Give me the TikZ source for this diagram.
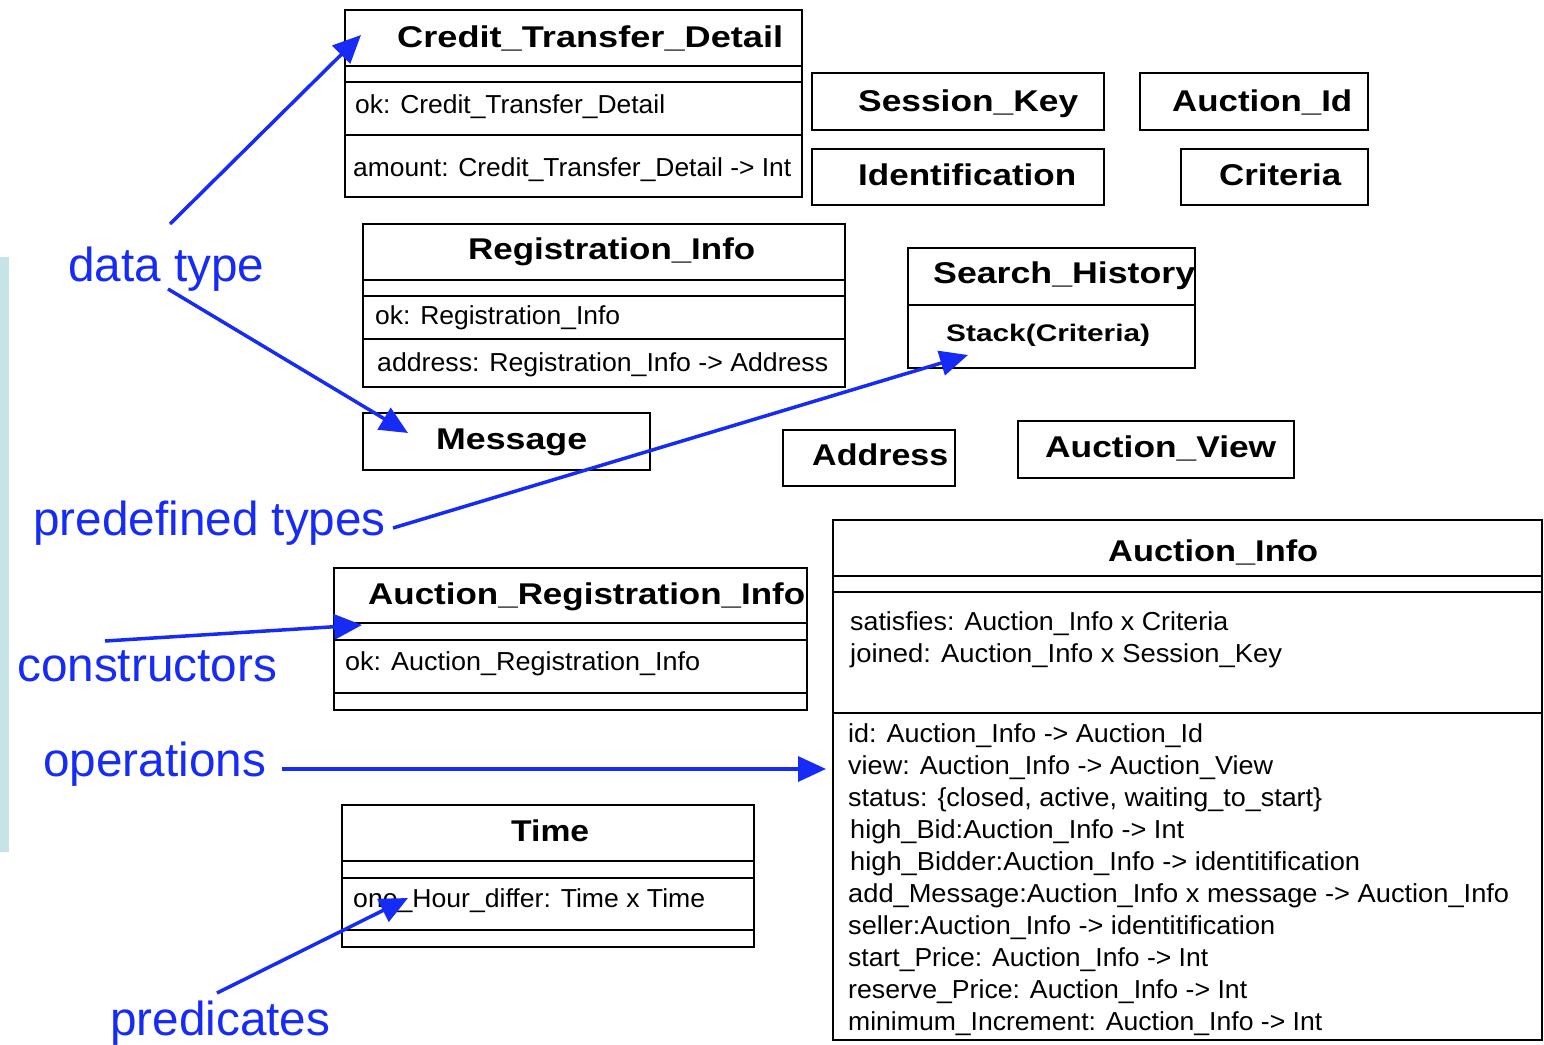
\documentclass[tikz,border=0pt]{standalone}
\usepackage{fontspec}
\setmainfont{Liberation Sans}
\usetikzlibrary{arrows.meta}
\definecolor{annblue}{RGB}{22,43,245}
\definecolor{barblue}{RGB}{198,228,232}
\newsavebox\fitbox
\newdimen\fitdim
\newcommand\fitw[2]{\sbox\fitbox{#2}\fitdim=\wd\fitbox\pgfmathsetmacro\fitfac{#1/\fitdim}\scalebox{\fitfac}[1]{\usebox\fitbox}}
\tikzset{
  box/.style={draw=black, line width=2pt},
  ttl/.style={anchor=base west, inner sep=0pt, font=\bfseries\fontsize{30}{32}\selectfont},
  sub/.style={anchor=base west, inner sep=0pt, font=\bfseries\fontsize{24}{26}\selectfont},
  txt/.style={anchor=base west, inner sep=0pt, font=\fontsize{26}{28}\selectfont},
  ann/.style={anchor=base west, inner sep=0pt, text=annblue, font=\fontsize{47.7}{50}\selectfont},
  annarrow/.style={draw=annblue, line width=3.5pt, -{Triangle[length=28pt,width=25pt]}}
}
\begin{document}
\begin{tikzpicture}[x=1pt,y=-1pt]
\useasboundingbox (0,0) rectangle (1544,1044);
\fill[barblue] (0,257) rectangle (9,852);

% Credit_Transfer_Detail
\draw[box] (345,10) rectangle (802,197);
\draw[box] (345,66) -- (802,66);
\draw[box] (345,82) -- (802,82);
\draw[box] (345,135) -- (802,135);
\node[ttl] (ctdT) at (397,47) {\fitw{386}{Credit\_Transfer\_Detail}};
\node[txt] (ctdA) at (355,113) {\fitw{310}{ok: Credit\_Transfer\_Detail}};
\node[txt] (ctdB) at (353,176) {\fitw{438}{amount: Credit\_Transfer\_Detail -> Int}};

% small boxes
\draw[box] (812,73) rectangle (1104,130);
\node[ttl] (sk) at (858,111) {\fitw{220}{Session\_Key}};
\draw[box] (812,149) rectangle (1104,205);
\node[ttl] (idf) at (858,185) {\fitw{218}{Identification}};
\draw[box] (1140,73) rectangle (1368,130);
\node[ttl] (aid) at (1172,111) {\fitw{180}{Auction\_Id}};
\draw[box] (1181,149) rectangle (1368,205);
\node[ttl] (crit) at (1219,185) {\fitw{122}{Criteria}};

% Registration_Info
\draw[box] (363,224) rectangle (845,387);
\draw[box] (363,280) -- (845,280);
\draw[box] (363,296) -- (845,296);
\draw[box] (363,339) -- (845,339);
\node[ttl] (riT) at (468,259) {\fitw{287}{Registration\_Info}};
\node[txt] (riA) at (375,324) {\fitw{245}{ok: Registration\_Info}};
\node[txt] (riB) at (377,371) {\fitw{451}{address: Registration\_Info -> Address}};

% Search_History
\draw[box] (908,248) rectangle (1195,368);
\draw[box] (908,305) -- (1195,305);
\node[ttl] (shT) at (933,283) {\fitw{262}{Search\_History}};
\node[sub] (shA) at (946,341) {\fitw{204}{Stack(Criteria)}};

% Message, Address, Auction_View
\draw[box] (363,413) rectangle (650,470);
\node[ttl] (msg) at (436,449) {\fitw{151}{Message}};
\draw[box] (783,430) rectangle (955,486);
\node[ttl] (adr) at (812,465) {\fitw{136}{Address}};
\draw[box] (1018,421) rectangle (1294,478);
\node[ttl] (av) at (1045,457) {\fitw{231}{Auction\_View}};

% Auction_Info
\draw[box] (833,520) rectangle (1542,1040);
\draw[box] (833,576) -- (1542,576);
\draw[box] (833,592) -- (1542,592);
\draw[box] (833,713) -- (1542,713);
\node[ttl] (aiT) at (1108,561) {\fitw{210}{Auction\_Info}};
\node[txt] (ai1) at (850,630) {\fitw{378}{satisfies: Auction\_Info x Criteria}};
\node[txt] (ai2) at (850,662) {\fitw{432}{joined: Auction\_Info x Session\_Key}};
\node[txt] (op1) at (848,742) {\fitw{355}{id: Auction\_Info -> Auction\_Id}};
\node[txt] (op2) at (848,774) {\fitw{425}{view: Auction\_Info -> Auction\_View}};
\node[txt] (op3) at (848,806) {\fitw{474}{status: \{closed, active, waiting\_to\_start\}}};
\node[txt] (op4) at (850,838) {\fitw{334}{high\_Bid:Auction\_Info -> Int}};
\node[txt] (op5) at (850,870) {\fitw{510}{high\_Bidder:Auction\_Info -> identitification}};
\node[txt] (op6) at (848,902) {\fitw{661}{add\_Message:Auction\_Info x message -> Auction\_Info}};
\node[txt] (op7) at (848,934) {\fitw{427}{seller:Auction\_Info -> identitification}};
\node[txt] (op8) at (848,966) {\fitw{360}{start\_Price: Auction\_Info -> Int}};
\node[txt] (op9) at (848,998) {\fitw{399}{reserve\_Price: Auction\_Info -> Int}};
\node[txt] (op10) at (848,1030) {\fitw{474}{minimum\_Increment: Auction\_Info -> Int}};

% Auction_Registration_Info
\draw[box] (334,568) rectangle (807,710);
\draw[box] (334,623) -- (807,623);
\draw[box] (334,640) -- (807,640);
\draw[box] (334,693) -- (807,693);
\node[ttl] (ariT) at (368,604) {\fitw{437}{Auction\_Registration\_Info}};
\node[txt] (ariA) at (345,670) {\fitw{355}{ok: Auction\_Registration\_Info}};

% Time
\draw[box] (342,805) rectangle (754,947);
\draw[box] (342,861) -- (754,861);
\draw[box] (342,878) -- (754,878);
\draw[box] (342,930) -- (754,930);
\node[ttl] (tmT) at (511,841) {\fitw{78}{Time}};
\node[txt] (tmA) at (353,907) {\fitw{352}{one\_Hour\_differ: Time x Time}};

% annotations
\node[ann] (lDT) at (68,281) {data type};
\node[ann] (lPT) at (33,535) {predefined types};
\node[ann] (lCO) at (17,681) {constructors};
\node[ann] (lOP) at (43,776) {operations};
\node[ann] (lPR) at (110,1035) {predicates};

\coordinate (s1) at (170,224);
\coordinate (e1) at (361,35);
\coordinate (s2) at (168,289);
\coordinate (e2) at (408,433);
\coordinate (s3) at (393,528);
\coordinate (e3) at (968,355);
\coordinate (s4) at (105,641);
\coordinate (e4) at (362,625);
\coordinate (s5) at (282,769);
\coordinate (e5) at (826,769);
\coordinate (s6) at (217,993);
\coordinate (e6) at (408,898);

\draw[annarrow] (s1) -- (e1);
\draw[annarrow] (s2) -- (e2);
\draw[annarrow] (s3) -- (e3);
\draw[annarrow] (s4) -- (e4);
\draw[annarrow] (s5) -- (e5);
\draw[annarrow] (s6) -- (e6);
\end{tikzpicture}
\end{document}
